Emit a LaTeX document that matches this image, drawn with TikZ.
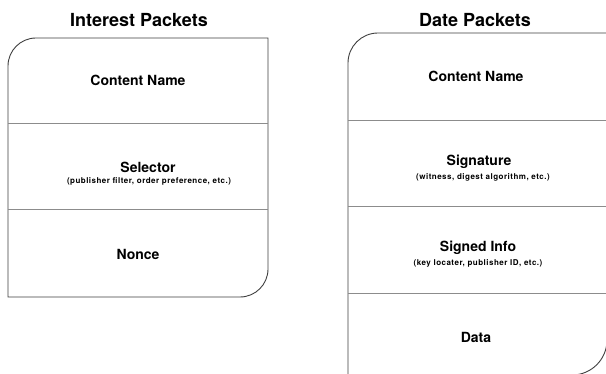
\documentclass[tikz,border=0pt]{standalone}
\usepackage{fontspec}
\setmainfont{TeX Gyre Heros}
\newfontfamily\notefont[LetterSpace=6]{TeX Gyre Heros}
\begin{document}
\begin{tikzpicture}[x=1pt,y=-1pt,
  frame/.style={draw=black!75, line width=0.9pt},
  divider/.style={draw=black!45, line width=0.8pt},
  title/.style={font=\bfseries\fontsize{18}{20}\selectfont, inner sep=0pt},
  field/.style={font=\bfseries\fontsize{14}{16}\selectfont, inner sep=0pt},
  note/.style={font=\notefont\bfseries\fontsize{8}{9}\selectfont, inner sep=0pt}]
  \useasboundingbox (0,0) rectangle (606,374);
  \clip (0,0) rectangle (606,374);
  \fill[white] (0,0) rectangle (606,374);

  % Interest packet
  \node[title] (ititle) at (139,20) {Interest Packets};
  \draw[frame] (8,66) arc[start angle=180, end angle=270, radius=28] -- (268,38)
    -- (268,269) arc[start angle=0, end angle=90, radius=28] -- (8,297) -- cycle;
  \draw[divider] (8,123) -- (268,123);
  \draw[divider] (8,209) -- (268,209);
  \node[field] (iname) at (138,80) {Content Name};
  \node[field] (isel) at (148,167) {Selector};
  \node[note] (iselnote) at (149,181) {(publisher filter, order preference, etc.)};
  \node[field] (inonce) at (138,254) {Nonce};

  % Data packet (runs past the lower and right edges)
  \node[title] (dtitle) at (475,20) {Date Packets};
  \draw[frame] (348,63) arc[start angle=180, end angle=270, radius=30] -- (607,33)
    -- (607,340) arc[start angle=0, end angle=90, radius=35] -- (348,375) -- cycle;
  \draw[divider] (348,120) -- (607,120);
  \draw[divider] (348,206) -- (607,206);
  \draw[divider] (348,293) -- (607,293);
  \node[field] (dname) at (476,76) {Content Name};
  \node[field] (dsig) at (479,162) {Signature};
  \node[note] (dsignote) at (483,177) {(witness, digest algorithm, etc.)};
  \node[field] (dinfo) at (478,248) {Signed Info};
  \node[note] (dinfonote) at (478,263) {(key locater, publisher ID, etc.)};
  \node[field] (ddata) at (476,337) {Data};
\end{tikzpicture}
\end{document}
